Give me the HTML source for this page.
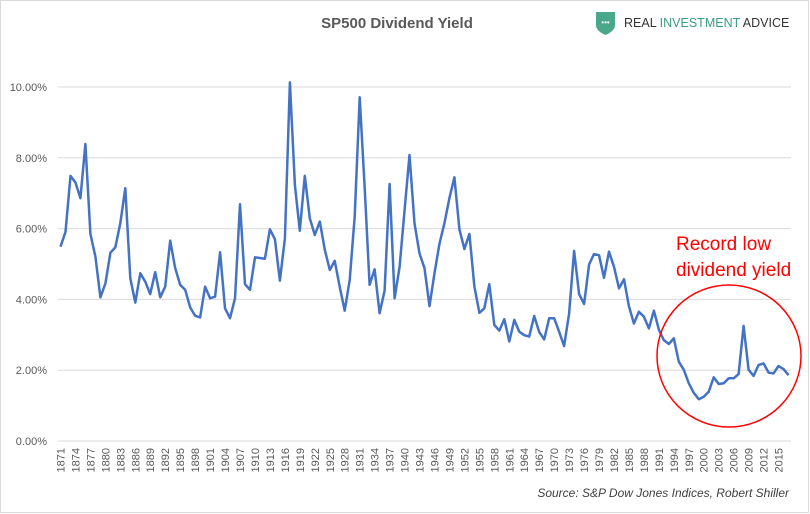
<!DOCTYPE html>
<html><head><meta charset="utf-8"><style>
body{margin:0;background:#fff;}
#c{position:relative;width:810px;height:514px;overflow:hidden;font-family:"Liberation Sans",sans-serif;}
svg text{font-family:"Liberation Sans",sans-serif;}
</style></head><body>
<div id="c">
<svg id="s" width="810" height="514">
<rect x="0.5" y="0.5" width="808" height="512" fill="#fff" stroke="#d9d9d9"/>
<text x="397" y="28" text-anchor="middle" font-size="15" font-weight="bold" fill="#595959">SP500 Dividend Yield</text>
<g>
<path d="M596 12 L615 12 L615 25 Q615 31 605.5 35 Q596 31 596 25 Z" fill="#4aa88a"/>
<text x="605.5" y="25" text-anchor="middle" font-size="8" fill="#fff">•••</text>
<text x="624" y="27" font-size="12.5" fill="#333">REAL <tspan fill="#3a9c80">INVESTMENT</tspan> ADVICE</text>
</g>
<g id="grid"></g>
<g id="xt"></g>
<g id="yt"></g>
<path id="line" fill="none" stroke="#4472c4" stroke-width="2.5" stroke-linejoin="round"/>
<ellipse cx="729" cy="356" rx="72" ry="71" fill="none" stroke="#ff0000" stroke-width="1.5"/>
<text x="676" y="250" font-size="19" fill="#ff0000">Record low</text>
<text x="676" y="276" font-size="19" fill="#ff0000">dividend yield</text>
<text x="789" y="497" text-anchor="end" font-size="12" font-style="italic" fill="#404040">Source: S&amp;P Dow Jones Indices, Robert Shiller</text>
</svg>
</div>
<script>
const startYear = 1871;
const yields = [5.49,5.91,7.49,7.30,6.86,8.39,5.85,5.21,4.06,4.45,5.32,5.47,6.15,7.14,4.60,3.91,4.74,4.50,4.15,4.77,
4.06,4.36,5.66,4.88,4.41,4.27,3.78,3.54,3.49,4.36,4.03,4.08,5.33,3.75,3.47,4.03,6.69,4.43,4.27,5.19,
5.17,5.15,5.98,5.70,4.53,5.72,10.13,7.23,5.94,7.49,6.29,5.82,6.20,5.40,4.83,5.09,4.36,3.68,4.55,6.34,
9.71,7.14,4.41,4.85,3.61,4.25,7.26,4.03,4.92,6.53,8.08,6.15,5.30,4.88,3.81,4.74,5.58,6.15,6.86,7.45,
5.98,5.42,5.85,4.36,3.62,3.75,4.43,3.28,3.12,3.44,2.81,3.42,3.09,2.99,2.95,3.53,3.08,2.87,3.47,3.47,
3.09,2.68,3.60,5.37,4.15,3.87,4.99,5.28,5.25,4.61,5.35,4.92,4.31,4.57,3.81,3.32,3.65,3.51,3.18,3.68,
3.14,2.85,2.74,2.90,2.24,2.01,1.63,1.36,1.18,1.25,1.39,1.80,1.61,1.63,1.77,1.77,1.89,3.25,2.01,1.84,
2.15,2.19,1.93,1.91,2.12,2.03,1.86];
const yTicks = [0,2,4,6,8,10];
const yTickLabels = ["0.00%","2.00%","4.00%","6.00%","8.00%","10.00%"];
const tickStep = 3;

const NS="http://www.w3.org/2000/svg";
const x0=58, x1=791, yBase=441, pxPer=35.4;
const n=yields.length;
const bw=(x1-x0)/n;
function xs(i){return x0+bw*(i+0.5);}
function ys(v){return yBase-v*pxPer;}
const grid=document.getElementById('grid'), xt=document.getElementById('xt'), yt=document.getElementById('yt');
yTicks.forEach((t,k)=>{
  const l=document.createElementNS(NS,'line');
  l.setAttribute('x1',x0);l.setAttribute('x2',x1);l.setAttribute('y1',ys(t));l.setAttribute('y2',ys(t));
  l.setAttribute('stroke','#d9d9d9');l.setAttribute('stroke-width','1');
  
  
  grid.appendChild(l);
  const tx=document.createElementNS(NS,'text');
  tx.setAttribute('x',47);tx.setAttribute('y',ys(t)+4);tx.setAttribute('text-anchor','end');
  tx.setAttribute('font-size','11');tx.setAttribute('fill','#595959');
  tx.textContent=yTickLabels[k];
  
  
  yt.appendChild(tx);
});
for(let i=0;i<n;i+=tickStep){
  const tx=document.createElementNS(NS,'text');
  const x=xs(i)+4, y=448;
  tx.setAttribute('x',x);tx.setAttribute('y',y);tx.setAttribute('text-anchor','end');
  tx.setAttribute('transform','rotate(-90 '+x+' '+y+')');
  tx.setAttribute('font-size','11');tx.setAttribute('fill','#595959');
  tx.textContent=String(startYear+i);
  
  
  xt.appendChild(tx);
}
let d='';
yields.forEach((v,i)=>{d+=(i?'L':'M')+xs(i).toFixed(1)+' '+ys(v).toFixed(1);});
document.getElementById('line').setAttribute('d',d);
</script>
</body></html>
